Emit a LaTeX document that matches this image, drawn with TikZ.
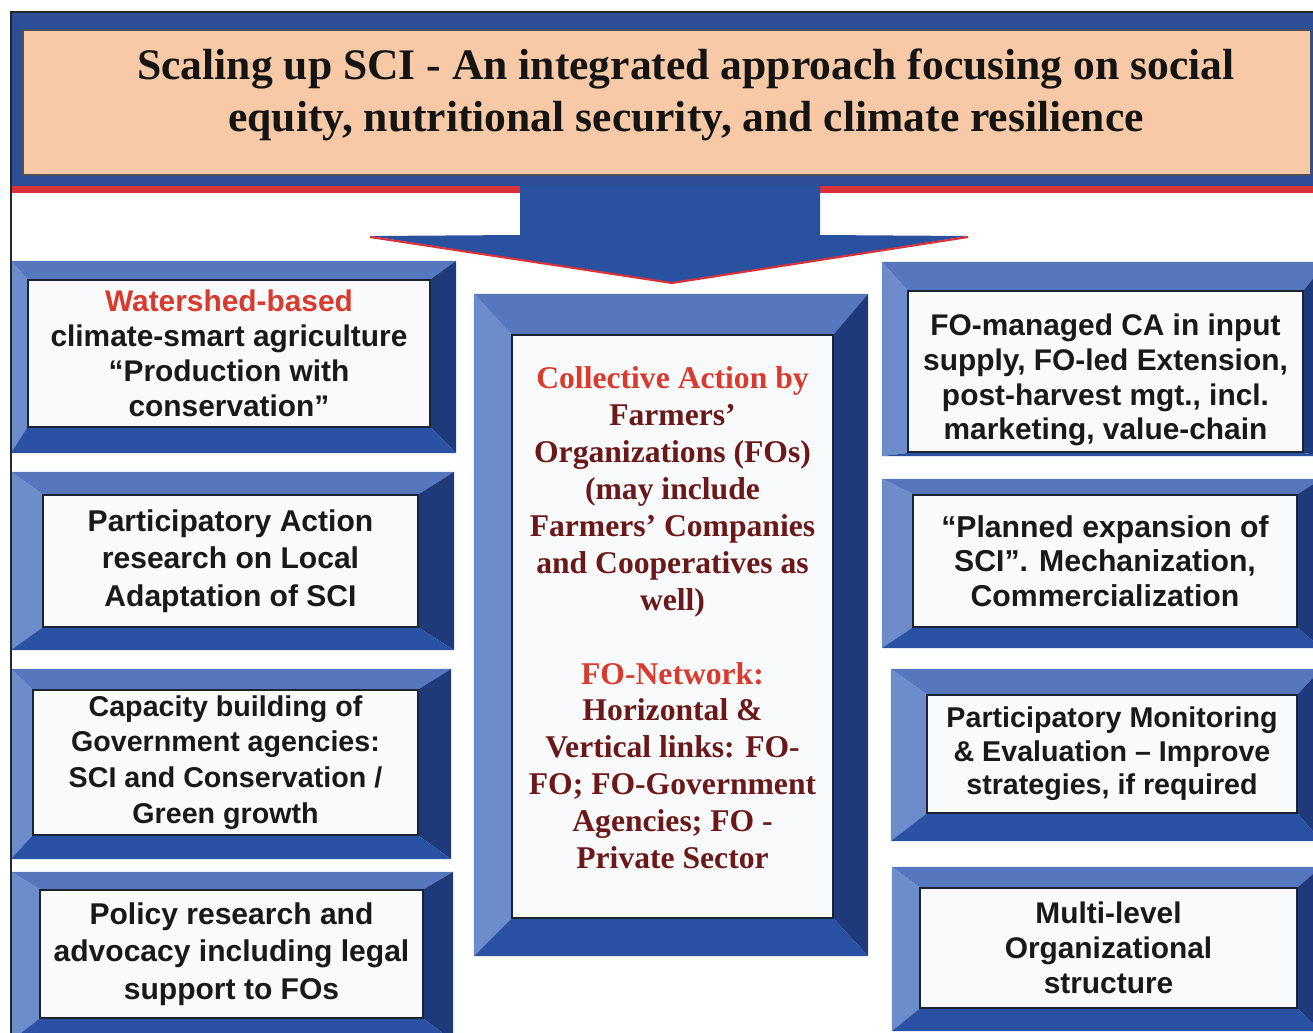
\documentclass[tikz,border=0pt]{standalone}
\usepackage{fontspec}
\setmainfont{Liberation Serif}
\setsansfont{Liberation Sans}
\usetikzlibrary{calc,backgrounds}
\definecolor{cBand}{HTML}{2D4F97}
\definecolor{cPeach}{HTML}{F8C9A6}
\definecolor{cRule}{HTML}{D8323A}
\definecolor{cBevT}{HTML}{5677BE}
\definecolor{cBevL}{HTML}{6C8CCB}
\definecolor{cBevR}{HTML}{1F3A7A}
\definecolor{cBevB}{HTML}{2A51A3}
\definecolor{cEdge}{HTML}{1C2433}
\definecolor{cCard}{HTML}{F9FAFC}
\definecolor{cRedT}{HTML}{D93A2E}
\definecolor{cMaroon}{HTML}{6B1818}
\definecolor{cArrow}{HTML}{2A51A0}

\newcommand{\px}{0.2mm}
% bevelled frame round a node: left, top, right, bottom widths in px
\newcommand{\bevel}[5]{%
  \begin{scope}[on background layer]
    \coordinate (#1-onw) at ($(#1.north west)+(-#2,-#3)$);
    \coordinate (#1-one) at ($(#1.north east)+(#4,-#3)$);
    \coordinate (#1-ose) at ($(#1.south east)+(#4,#5)$);
    \coordinate (#1-osw) at ($(#1.south west)+(-#2,#5)$);
    \fill[cBevT] (#1-onw) -- (#1-one) -- (#1.north east) -- (#1.north west) -- cycle;
    \fill[cBevL] (#1-onw) -- (#1.north west) -- (#1.south west) -- (#1-osw) -- cycle;
    \fill[cBevR] (#1-one) -- (#1-ose) -- (#1.south east) -- (#1.north east) -- cycle;
    \fill[cBevB] (#1-osw) -- (#1.south west) -- (#1.south east) -- (#1-ose) -- cycle;
  \end{scope}}

\begin{document}
\begin{tikzpicture}[x=\px,y=-\px,
  card/.style={draw=cEdge,line width=1.2pt,fill=cCard,align=center,inner sep=0pt,
    font=\sffamily\bfseries\fontsize{17}{20}\selectfont,text=black!90},
  hub/.style={font=\rmfamily\bfseries\fontsize{18}{21}\selectfont,text=cMaroon},
  banner/.style={draw=cEdge!80,line width=1.2pt,fill=cPeach,
    minimum width=1288*\px,minimum height=145*\px},
  headline/.style={font=\rmfamily\bfseries\fontsize{24.8}{29.5}\selectfont,
    align=center,text=black!92}]

  \useasboundingbox (0,0) rectangle (1313,1033);
  \clip (0,0) rectangle (1313,1033);

  % header band
  \fill[cBand] (11,12) rectangle (1313,188);
  \fill[cRule] (11,186) rectangle (1313,193);
  \draw[line width=1.4pt,black!85] (11,1033) -- (11,12) -- (1313,12);
  \node[banner] (banner) at (667,102.5) {};
  \node[headline] (headline) at ($(banner.center)+(19,-8)$)
    {Scaling up SCI - An integrated approach focusing on social\\
     equity, nutritional security, and climate resilience};

  % block arrow down to the hub
  \coordinate (tip) at (672,283);
  \fill[cArrow] (520,186) -- (820,186) -- (820,235) -- (968,236) -- (tip)
    -- (370,236) -- (520,235) -- cycle;
  \draw[cRule,line width=1.2pt] (370,237) -- (tip) -- (968,237);

  % side boxes
  \foreach \nm/\cx/\cy/\w/\h/\bl/\bt/\br/\bb/\fs/\ls/\txt in {
    wshed/229/353.5/402/147/16/18/25/25/17/19.8/{\textcolor{cRedT}{Watershed-based}\\climate-smart agriculture\\``Production with\\conservation"},
    parres/230.5/561/375/132/31/22/35/22/17.1/21.2/{Participatory Action\\research on Local\\Adaptation of SCI},
    capbld/225.5/762.5/385/145/21/20/32/23/16.3/20.4/{Capacity building of\\Government agencies:\\SCI and Conservation /\\Green growth},
    policy/231.5/954/383/128/28/17/29/22/17.1/21.2/{Policy research and\\advocacy including legal\\support to FOs},
    fomgd/1105.5/371.5/395/161/25/28/22/3/17/19.8/{\rule{0pt}{22pt}FO-managed CA in input\\supply, FO-led Extension,\\post-harvest mgt., incl.\\marketing, value-chain},
    plexp/1105/561/384/132/30/15/23/20/17.2/19.8/{``Planned expansion of\\SCI". Mechanization,\\Commercialization},
    pme/1112/754/370/118/35/25/23/27/16.3/19/{Participatory Monitoring\\\& Evaluation -- Improve\\strategies, if required},
    multi/1108.5/948/377/120/27/20/23/22/17/19.8/{Multi-level\\Organizational\\structure}}
    {\node[card,minimum width=\w*\px,minimum height=\h*\px,
       font=\sffamily\bfseries\fontsize{\fs}{\ls}\selectfont] (\nm) at (\cx,\cy) {\txt};
     \bevel{\nm}{\bl}{\bt}{\br}{\bb}}

  % central box
  \node[card,hub,minimum width=321*\px,minimum height=583*\px] (hub) at (672.5,626.5)
    {\textcolor{cRedT}{Collective Action by}\\Farmers'\\Organizations (FOs)\\(may include\\
     Farmers' Companies\\and Cooperatives as\\well)\\[21pt]
     \textcolor{cRedT}{FO-Network:}\\Horizontal \&\\Vertical links: FO-\\FO; FO-Government\\
     Agencies; FO -\\Private Sector\rule[-10pt]{0pt}{1pt}};
  \bevel{hub}{37}{40}{34}{37}
\end{tikzpicture}
\end{document}
